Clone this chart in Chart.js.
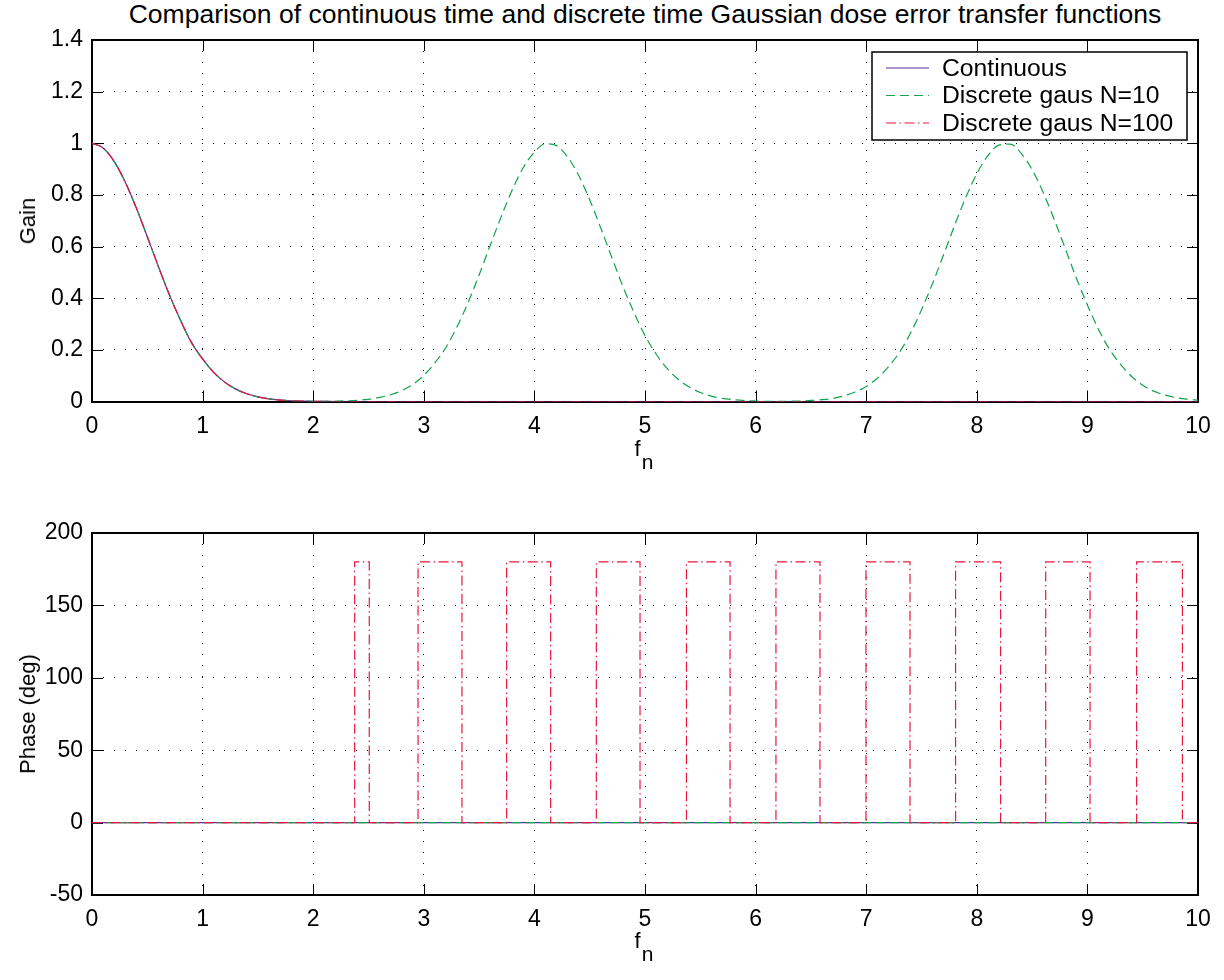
<!DOCTYPE html>
<html>
<head>
<meta charset="utf-8">
<script src="https://cdn.jsdelivr.net/npm/chart.js@4.4.1/dist/chart.umd.min.js"></script>
<style>
  body { margin: 0; width: 1224px; height: 980px; background: #fff; position: relative; overflow: hidden;
         font-family: "Liberation Sans", Arial, Helvetica, sans-serif; color: #000; }
  .panel { position: absolute; left: 0; width: 1224px; height: 490px; }
  .lbl { position: absolute; white-space: nowrap; font-size: 22px; line-height: 1; }
  .ylbl { transform: translate(-50%, -50%) rotate(-90deg); }
  .xlbl { transform: translate(-50%, -50%); }
  .xlbl span { position: relative; top: 13px; font-size: 21px; margin-left: 1px; }
</style>
</head>
<body>
<div class="lbl xlbl" style="left:645px; top:14px; font-size:26.5px;">Comparison of continuous time and discrete time Gaussian dose error transfer functions</div>
<div class="panel" style="top:0"><canvas id="gainChart" width="1224" height="490"></canvas></div>
<div class="panel" style="top:490px"><canvas id="phaseChart" width="1224" height="490"></canvas></div>
<div class="lbl ylbl" style="left:28px; top:221px;">Gain</div>
<div class="lbl xlbl" style="left:644px; top:449px;">f<span>n</span></div>
<div class="lbl ylbl" style="left:28px; top:714px;">Phase (deg)</div>
<div class="lbl xlbl" style="left:644px; top:941px;">f<span>n</span></div>

<script>
/* ================= DATA ================= */
const seriesNames = ["Continuous", "Discrete gaus N=10", "Discrete gaus N=100"];

// low frequency part of the continuous / N=100 gain, then flat zero up to 10
const lowFreq = [0, 0.1, 0.2, 0.3, 0.4, 0.5, 0.6, 0.7, 0.8, 0.9, 1.0, 1.1, 1.2, 1.3, 1.4, 1.5,
  1.6, 1.7, 1.8, 1.9, 2.0, 2.1, 2.2, 2.3, 2.4, 2.5, 10];
const gainCont = [1.000, 0.982, 0.930, 0.850, 0.750, 0.638, 0.523, 0.413, 0.315, 0.228, 0.165,
  0.113, 0.075, 0.048, 0.030, 0.018, 0.010, 0.0055, 0.003, 0.0015, 0.0007, 0.0003, 0, 0, 0, 0, 0];
const gainN100 = [1.000, 0.982, 0.930, 0.850, 0.750, 0.638, 0.523, 0.413, 0.315, 0.228, 0.165,
  0.113, 0.075, 0.048, 0.030, 0.018, 0.010, 0.0055, 0.003, 0.0015, 0.0007, 0.0003, 0, 0, 0, 0, 0];

const freq = [0, 0.1, 0.2, 0.3, 0.4, 0.5, 0.6, 0.7, 0.8, 0.9, 1.0, 1.1, 1.2, 1.3, 1.4, 1.5, 1.6,
  1.7, 1.8, 1.9, 2.0, 2.1, 2.2, 2.3, 2.4, 2.5, 2.6, 2.7, 2.8, 2.9, 3.0, 3.1, 3.2, 3.3, 3.4, 3.5,
  3.6, 3.7, 3.8, 3.9, 4.0, 4.1, 4.2, 4.3, 4.4, 4.5, 4.6, 4.7, 4.8, 4.9, 5.0, 5.1, 5.2, 5.3, 5.4,
  5.5, 5.6, 5.7, 5.8, 5.9, 6.0, 6.1, 6.2, 6.3, 6.4, 6.5, 6.6, 6.7, 6.8, 6.9, 7.0, 7.1, 7.2, 7.3,
  7.4, 7.5, 7.6, 7.7, 7.8, 7.9, 8.0, 8.1, 8.2, 8.3, 8.4, 8.5, 8.6, 8.7, 8.8, 8.9, 9.0, 9.1, 9.2,
  9.3, 9.4, 9.5, 9.6, 9.7, 9.8, 9.9, 10.0];
const gainN10 = [1.000, 0.982, 0.930, 0.850, 0.750, 0.638, 0.523, 0.413, 0.315, 0.228, 0.165,
  0.113, 0.075, 0.048, 0.030, 0.018, 0.010, 0.0055, 0.003, 0.0015, 0.001,
  0.0007, 0.0012, 0.0025, 0.0047, 0.0085, 0.016, 0.026, 0.042, 0.066, 0.101,
  0.150, 0.209, 0.289, 0.383, 0.490, 0.604, 0.716, 0.820, 0.906, 0.966,
  0.998, 0.991, 0.947, 0.876, 0.781, 0.672, 0.558, 0.446, 0.345, 0.255,
  0.184, 0.128, 0.086, 0.056, 0.035, 0.021, 0.012, 0.007, 0.0037, 0.002,
  0.0009, 0.001, 0.001, 0.002, 0.004, 0.007, 0.012, 0.022, 0.037, 0.058,
  0.090, 0.134, 0.190, 0.264, 0.355, 0.457, 0.569, 0.683, 0.790, 0.882,
  0.952, 0.993, 0.997, 0.962, 0.898, 0.810, 0.705, 0.592, 0.478, 0.374,
  0.280, 0.202, 0.144, 0.097, 0.063, 0.040, 0.025, 0.015, 0.009, 0.005];

// phase: continuous and N=10 stay at 0, N=100 jumps to 180 deg between these edges
const phaseFlatFreq = [0, 10];
const phaseCont = [0, 0];
const phaseN10 = [0, 0];
const n100Rise = [2.375, 2.948, 3.749, 4.560, 5.375, 6.184, 6.998, 7.808, 8.623, 9.445];
const n100Fall = [2.507, 3.345, 4.147, 4.955, 5.769, 6.582, 7.396, 8.215, 9.024, 9.859];
const n100High = 180;

const xTicks = [0, 1, 2, 3, 4, 5, 6, 7, 8, 9, 10];
const gainTicks = [0, 0.2, 0.4, 0.6, 0.8, 1, 1.2, 1.4];
const phaseTicks = [-50, 0, 50, 100, 150, 200];

/* ================= STYLE ================= */
const FONT = '"Liberation Sans", Arial, Helvetica, sans-serif';
const colCont = "#5b2ca6";
const colN10 = "#12a34c";
const colN100 = "#e8163f";
const dashN10 = [9, 5];
const dashN100 = [10, 3.5, 1.5, 3.5];

Chart.defaults.font.family = FONT;
Chart.defaults.color = "#000";

const toPts = (xs, ys) => xs.map((x, i) => ({ x, y: ys[i] }));

const redPhase = [{ x: 0, y: 0 }];
n100Rise.forEach((r, i) => {
  redPhase.push({ x: r, y: 0 }, { x: r, y: n100High }, { x: n100Fall[i], y: n100High }, { x: n100Fall[i], y: 0 });
});
redPhase.push({ x: 10, y: 0 });

/* ================= PLUGIN: box, inward ticks, legend ================= */
const TICK_LEN = 11;
const matlabAxes = {
  id: "matlabAxes",
  beforeDatasetsDraw(chart) {
    const { ctx, chartArea: a, scales } = chart;
    ctx.save();
    ctx.strokeStyle = "#000";
    ctx.lineWidth = 1;
    ctx.beginPath();
    scales.x.ticks.forEach((t) => {
      const px = Math.round(scales.x.getPixelForValue(t.value)) + 0.5;
      ctx.moveTo(px, a.bottom); ctx.lineTo(px, a.bottom - TICK_LEN);
      ctx.moveTo(px, a.top); ctx.lineTo(px, a.top + TICK_LEN);
    });
    scales.y.ticks.forEach((t) => {
      const py = Math.round(scales.y.getPixelForValue(t.value)) + 0.5;
      ctx.moveTo(a.left, py); ctx.lineTo(a.left + TICK_LEN, py);
      ctx.moveTo(a.right, py); ctx.lineTo(a.right - TICK_LEN, py);
    });
    ctx.stroke();
    ctx.lineWidth = 2;
    ctx.strokeRect(Math.round(a.left), Math.round(a.top), Math.round(a.right - a.left), Math.round(a.bottom - a.top));
    ctx.restore();
  },
  afterDraw(chart, args, opts) {
    if (!opts.legend) return;
    const { ctx, chartArea: a } = chart;
    const L = a.right - 326, T = a.top + 12, W = 315, H = 88;
    ctx.save();
    ctx.fillStyle = "#fff";
    ctx.fillRect(L, T, W, H);
    ctx.strokeStyle = "#000";
    ctx.lineWidth = 1.5;
    ctx.strokeRect(L, T, W, H);
    const items = [
      { c: colCont, d: [] },
      { c: colN10, d: dashN10 },
      { c: colN100, d: dashN100 },
    ];
    items.forEach((it, i) => {
      const y = T + 16 + i * 27.5;
      ctx.strokeStyle = it.c;
      ctx.lineWidth = 1.2;
      ctx.setLineDash(it.d);
      ctx.beginPath();
      ctx.moveTo(L + 14, y); ctx.lineTo(L + 57, y);
      ctx.stroke();
      ctx.setLineDash([]);
      ctx.fillStyle = "#000";
      ctx.font = "24.7px " + FONT;
      ctx.textBaseline = "middle";
      ctx.fillText(seriesNames[i], L + 70, y + 1);
    });
    ctx.restore();
  },
};

function makeChart(id, datasets, yMin, yMax, yTickVals, topPad, xHeight, legend) {
  return new Chart(document.getElementById(id), {
    type: "line",
    data: { datasets },
    options: {
      responsive: false,
      animation: false,
      layout: { padding: { top: topPad, right: 26, left: 0, bottom: 0 } },
      plugins: { legend: { display: false }, tooltip: { enabled: false }, matlabAxes: { legend } },
      elements: { point: { radius: 0 }, line: { borderWidth: 1.2 } },
      scales: {
        x: {
          type: "linear", min: 0, max: 10,
          afterBuildTicks: (s) => { s.ticks = xTicks.map((v) => ({ value: v })); },
          ticks: { padding: 11, font: { size: 23 }, maxRotation: 0, autoSkip: false },
          grid: { color: "#000", lineWidth: 1, drawTicks: false },
          border: { display: false, dash: [1, 10] },
          afterFit: (s) => { s.height = xHeight; },
        },
        y: {
          type: "linear", min: yMin, max: yMax,
          afterBuildTicks: (s) => { s.ticks = yTickVals.map((v) => ({ value: v })); },
          ticks: { padding: 9, font: { size: 23 }, callback: (v) => String(+v.toFixed(2)) },
          grid: { color: "#000", lineWidth: 1, drawTicks: false },
          border: { display: false, dash: [1, 10] },
          afterFit: (s) => { s.width = 92; },
        },
      },
    },
    plugins: [matlabAxes],
  });
}

/* ================= CHARTS ================= */
makeChart("gainChart", [
  { label: seriesNames[2], data: toPts(lowFreq, gainN100), borderColor: colN100, borderDash: dashN100, cubicInterpolationMode: "monotone", order: 0 },
  { label: seriesNames[1], data: toPts(freq, gainN10), borderColor: colN10, borderDash: dashN10, cubicInterpolationMode: "monotone", order: 1 },
  { label: seriesNames[0], data: toPts(lowFreq, gainCont), borderColor: colCont, cubicInterpolationMode: "monotone", order: 2 },
], 0, 1.4, gainTicks, 40, 88.5, true);

makeChart("phaseChart", [
  { label: seriesNames[2], data: redPhase, borderColor: colN100, borderDash: dashN100, tension: 0, order: 0 },
  { label: seriesNames[1], data: toPts(phaseFlatFreq, phaseN10), borderColor: colN10, borderDash: dashN10, order: 1 },
  { label: seriesNames[0], data: toPts(phaseFlatFreq, phaseCont), borderColor: colCont, order: 2 },
], -50, 200, phaseTicks, 43, 85, false);
</script>
</body>
</html>
